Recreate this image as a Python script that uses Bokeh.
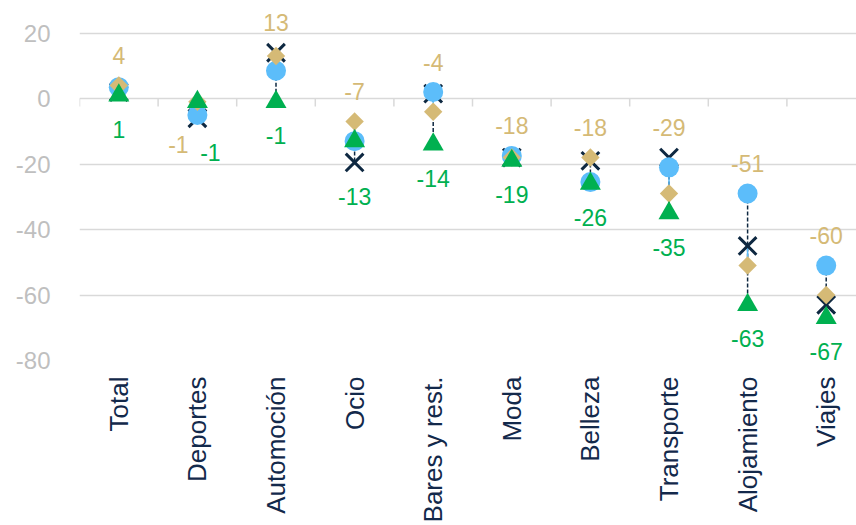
import math
from bokeh.plotting import figure
from bokeh.models import ColumnDataSource, FixedTicker
from bokeh.core.properties import value
from bokeh.embed import file_html
from bokeh.resources import INLINE

categories = ["Total", "Deportes", "Automoción", "Ocio", "Bares y rest.",
              "Moda", "Belleza", "Transporte", "Alojamiento", "Viajes"]
serie_circulo = [3.5, -5, 8.5, -13, 2, -17.5, -25.5, -21, -29, -51]
serie_cruz = [2, -6, 14, -19.5, 1.5, -18, -19, -18, -45, -63]
serie_rombo = [4, -1, 13, -7, -4, -18, -18, -29, -51, -60]
serie_triangulo = [1, -1, -1, -13, -14, -19, -26, -35, -63, -67]
y_ticks = [-80, -60, -40, -20, 0, 20]

FONT = value("Liberation Sans")
NAVY = "#0E2841"
LBLUE = "#5CBDFA"
TAN = "#D5BA76"
GREEN = "#00B050"
GRID = "#D9D9D9"

n = len(categories)
xs = list(range(n))
top = [max(v) for v in zip(serie_circulo, serie_cruz, serie_rombo, serie_triangulo)]
bot = [min(v) for v in zip(serie_circulo, serie_cruz, serie_rombo, serie_triangulo)]

# light-blue connector: from the nearer of circle/cross to the diamond
lb_start = []
for c, x, r in zip(serie_circulo, serie_cruz, serie_rombo):
    lb_start.append(c if abs(c - r) < abs(x - r) else x)

# label placement (Deportes: both labels below, side by side)
tan_y, tan_dx, tan_dy = [], [], []
grn_dx = []
for i in range(n):
    if categories[i] == "Deportes":
        tan_y.append(bot[i]); tan_dx.append(-19); tan_dy.append(26)
        grn_dx.append(13)
    else:
        tan_y.append(top[i]); tan_dx.append(0); tan_dy.append(-30)
        grn_dx.append(0)

src = ColumnDataSource(dict(
    x=xs, c=serie_circulo, k=serie_cruz, r=serie_rombo, t=serie_triangulo,
    top=top, bot=bot, lb0=lb_start,
    tan_y=tan_y, tan_dx=tan_dx, tan_dy=tan_dy, grn_dx=grn_dx,
    tan_txt=[str(v) for v in serie_rombo],
    grn_txt=[str(v) for v in serie_triangulo],
))

W, H = 856, 525
LEFT = 79
TOP = 10
px_per_cat = 78.6
x_end = -0.5 + (W - LEFT) / px_per_cat
px_per_unit = 3.27
y_end = (98 - TOP) / px_per_unit

p = figure(width=W, height=H, output_backend="svg", toolbar_location=None,
           x_range=(-0.5, x_end), y_range=(-80, y_end),
           min_border_left=LEFT, min_border_right=0, min_border_top=TOP,
           min_border_bottom=165)
p.outline_line_color = None
p.background_fill_color = "white"
p.border_fill_color = "white"

p.xgrid.visible = False
p.ygrid.ticker = FixedTicker(ticks=y_ticks)
p.ygrid.grid_line_color = GRID
p.ygrid.grid_line_width = 1.5

p.yaxis.ticker = FixedTicker(ticks=y_ticks)
p.yaxis.major_label_overrides = {v: str(v) for v in y_ticks}
p.yaxis.axis_line_color = None
p.yaxis.major_tick_line_color = None
p.yaxis.minor_tick_line_color = None
p.yaxis.major_label_text_color = "#BFBFBF"
p.yaxis.major_label_text_font = "Liberation Sans"
p.yaxis.major_label_text_font_size = "24px"
p.yaxis.major_label_standoff = 23

p.xaxis.ticker = FixedTicker(ticks=xs)
p.xaxis.major_label_overrides = {i: c for i, c in enumerate(categories)}
p.xaxis.axis_line_color = None
p.xaxis.major_tick_line_color = None
p.xaxis.minor_tick_line_color = None
p.xaxis.major_label_orientation = math.pi / 2
p.xaxis.major_label_text_color = "#13294B"
p.xaxis.major_label_text_font = "Liberation Sans"
p.xaxis.major_label_text_font_size = "26px"
p.xaxis.major_label_standoff = 10

# category-boundary ticks on the zero line
p.ray(x=[i - 0.5 for i in range(n + 1)], y=[0] * (n + 1), length=8,
      length_units="screen", angle=-math.pi / 2, line_color=GRID, line_width=1.5)

# high-low dashed line
p.segment(x0="x", y0="top", x1="x", y1="bot", source=src,
          line_color=NAVY, line_width=1.5, line_dash="4 2")
# light-blue connector
p.segment(x0="x", y0="lb0", x1="x", y1="r", source=src,
          line_color=LBLUE, line_width=1.5)

p.scatter(x="x", y="k", source=src, marker="x", size=25,
          line_color=NAVY, line_width=3)
p.scatter(x="x", y="c", source=src, marker="circle", size=20,
          fill_color=LBLUE, line_color=None)
p.scatter(x="x", y="r", source=src, marker="square", size=13, angle=math.pi / 4,
          fill_color=TAN, line_color=None)
p.scatter(x="x", y="t", source=src, marker="triangle", size=21,
          fill_color=GREEN, line_color=None)

p.text(x="x", y="tan_y", text="tan_txt", source=src, x_offset="tan_dx",
       y_offset="tan_dy", text_color=TAN, text_font=FONT, text_font_size="23px",
       text_align="center", text_baseline="middle")
p.text(x="x", y="bot", text="grn_txt", source=src, x_offset="grn_dx",
       y_offset=34, text_color=GREEN, text_font=FONT, text_font_size="23px",
       text_align="center", text_baseline="middle")

open("out.html", "w").write(file_html(p, INLINE))
